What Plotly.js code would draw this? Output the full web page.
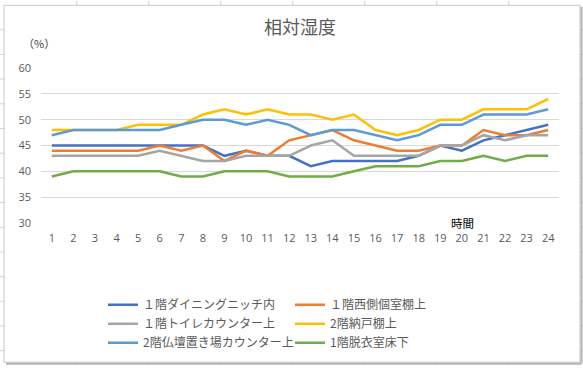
<!DOCTYPE html>
<html>
<head>
<meta charset="utf-8">
<script src="https://cdn.plot.ly/plotly-3.0.1.min.js"></script>
<style>
  html, body { margin: 0; padding: 0; background: #ffffff; }
  #chart { width: 583px; height: 369px; }
</style>
</head>
<body>
<div id="chart"></div>
<script>
// ---- data ----
const hours = ["1","2","3","4","5","6","7","8","9","10","11","12","13","14","15","16","17","18","19","20","21","22","23","24"];
const seriesNames = ["１階ダイニングニッチ内", "１階西側個室棚上", "１階トイレカウンター上", "2階納戸棚上", "2階仏壇置き場カウンター上", "1階脱衣室床下"];
const dining   = [45,45,45,45,45,45,45,45,43,44,43,43,41,42,42,42,42,43,45,44,46,47,48,49];
const westRoom = [44,44,44,44,44,45,44,45,42,44,43,46,47,48,46,45,44,44,45,45,48,47,47,48];
const toilet   = [43,43,43,43,43,44,43,42,42,43,43,43,45,46,43,43,43,43,45,45,47,46,47,47];
const storage  = [48,48,48,48,49,49,49,51,52,51,52,51,51,50,51,48,47,48,50,50,52,52,52,54];
const butsudan = [47,48,48,48,48,48,49,50,50,49,50,49,47,48,48,47,46,47,49,49,51,51,51,52];
const dressing = [39,40,40,40,40,40,39,39,40,40,40,39,39,39,40,41,41,41,42,42,43,42,43,43];
const yTicks = [30,35,40,45,50,55,60];

const colors = ["#4472C4", "#ED7D31", "#A5A5A5", "#FFC000", "#5B9BD5", "#70AD47"];
const allSeries = [dining, westRoom, toilet, storage, butsudan, dressing];

const traces = allSeries.map((vals, i) => ({
  type: "scatter",
  mode: "lines",
  x: hours,
  y: vals,
  name: seriesNames[i],
  line: { color: colors[i], width: 2.5 },
  hoverinfo: "skip"
}));

// ---- layout helpers (pixel -> paper) ----
const W = 583, H = 369, ML = 41, MR = 24, MT = 68, MB = 144;
const PW = W - ML - MR, PH = H - MT - MB;
const X = px => (px - ML) / PW;
const Y = py => (H - MB - py) / PH;

const shapes = [];
// spreadsheet grid outside chart frame
const vlines = [76.7, 148.7, 220.7, 292.7, 364.7, 436.7, 508.7];
vlines.forEach(v => {
  shapes.push({type:"line", xref:"paper", yref:"paper", x0:X(v), x1:X(v), y0:Y(0), y1:Y(4.5), line:{color:"#d4d4d4", width:1}, layer:"below"});
  shapes.push({type:"line", xref:"paper", yref:"paper", x0:X(v), x1:X(v), y0:Y(366), y1:Y(369), line:{color:"#d4d4d4", width:1}, layer:"below"});
});
for (let k = 0; k < 15; k++) {
  const h = 29.3 + 25 * k;
  if (h > 369) break;
  shapes.push({type:"line", xref:"paper", yref:"paper", x0:X(0), x1:X(4), y0:Y(h), y1:Y(h), line:{color:"#d4d4d4", width:1}, layer:"below"});
  shapes.push({type:"line", xref:"paper", yref:"paper", x0:X(580), x1:X(583), y0:Y(h), y1:Y(h), line:{color:"#d4d4d4", width:1}, layer:"below"});
}
// chart frame
shapes.push({type:"rect", xref:"paper", yref:"paper", x0:X(4), x1:X(580), y0:Y(366), y1:Y(4.5), line:{color:"#c6c6c6", width:1}, fillcolor:"rgba(0,0,0,0)", layer:"below"});
shapes.push({type:"line", xref:"paper", yref:"paper", x0:X(581.5), x1:X(581.5), y0:Y(367), y1:Y(6), line:{color:"#b4b4b4", width:2}, layer:"below"});
shapes.push({type:"line", xref:"paper", yref:"paper", x0:X(6), x1:X(581.5), y0:Y(367.5), y1:Y(367.5), line:{color:"#b4b4b4", width:2}, layer:"below"});

const layout = {
  width: W, height: H,
  margin: { l: ML, r: MR, t: MT, b: MB, pad: 0 },
  paper_bgcolor: "#ffffff",
  plot_bgcolor: "#ffffff",
  showlegend: true,
  title: {
    text: "相対湿度",
    font: { family: "Noto Sans CJK JP", size: 18, color: "#595959" },
    x: 0.5, xref: "paper", xanchor: "center",
    y: 1 - 28 / H, yref: "container", yanchor: "middle"
  },
  xaxis: {
    type: "category",
    range: [-0.5, hours.length - 0.5],
    tickvals: hours,
    ticktext: hours,
    showgrid: false,
    zeroline: false,
    showline: false,
    ticks: "",
    ticklabelstandoff: 7,
    tickfont: { family: "Open Sans", size: 11, color: "#595959" },
    fixedrange: true
  },
  yaxis: {
    range: [30, 60],
    tickvals: yTicks,
    showgrid: true,
    gridcolor: "#d9d9d9",
    gridwidth: 1,
    zeroline: false,
    showline: false,
    ticks: "",
    ticklabelstandoff: 9,
    tickfont: { family: "Open Sans", size: 11, color: "#595959" },
    fixedrange: true
  },
  legend: {
    orientation: "h",
    x: X(103), xanchor: "left",
    y: Y(293), yanchor: "top",
    entrywidth: 142,
    entrywidthmode: "pixels",
    font: { family: "Noto Sans CJK JP", size: 12, color: "#595959" },
    bgcolor: "rgba(0,0,0,0)",
    traceorder: "normal"
  },
  annotations: [
    { text: "（%）", xref: "paper", yref: "paper", x: X(39), y: Y(43), xanchor: "center", yanchor: "middle", showarrow: false,
      font: { family: "Noto Sans CJK JP", size: 11, color: "#404040" } },
    { text: "時間", xref: "paper", yref: "paper", x: X(462), y: Y(225), xanchor: "center", yanchor: "middle", showarrow: false,
      font: { family: "Noto Sans CJK JP", size: 11.5, color: "#000000" } }
  ],
  shapes: shapes
};

Plotly.newPlot("chart", traces, layout, { displayModeBar: false, staticPlot: true });
</script>
</body>
</html>
